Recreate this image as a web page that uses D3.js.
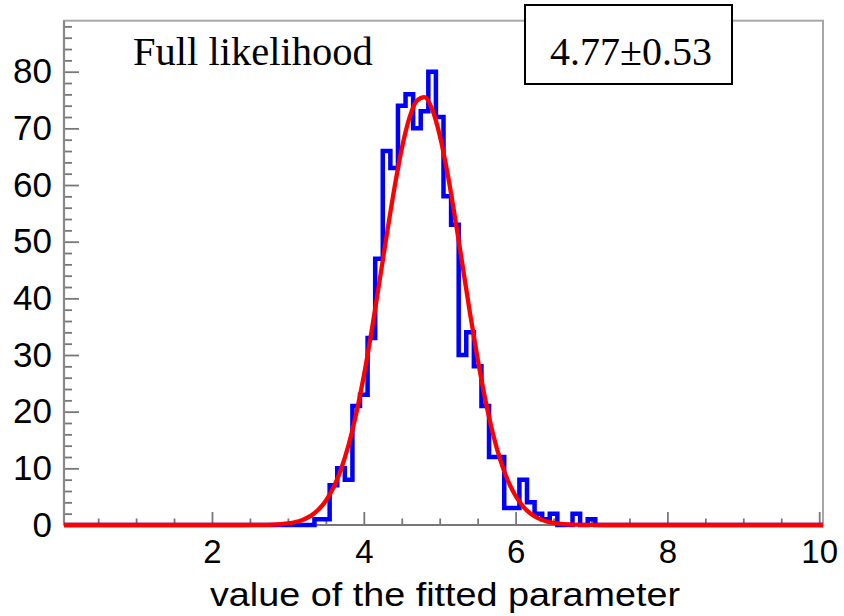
<!DOCTYPE html>
<html lang="en">
  <head>
    <meta charset="utf-8">
    <title>Full likelihood fit</title>
    <style>
        body {
            margin: 0;
            background: #fff;
        }
        svg {
            display: block;
        }
    </style>
    <script src="https://d3js.org/d3.v7.min.js"></script>
  </head>
  <body>
    <script>

    // histogram: bin centres and counts (bin width 0.1)
    const binWidth = 0.1;
    const binCenters = [3.4, 3.5, 3.6, 3.7, 3.8, 3.9, 4.0, 4.1, 4.2, 4.3,
                        4.4, 4.5, 4.6, 4.7, 4.8, 4.9, 5.0, 5.1, 5.2, 5.3,
                        5.4, 5.5, 5.6, 5.7, 5.8, 5.9, 6.0, 6.1, 6.2, 6.3,
                        6.4, 6.5, 6.6, 6.7, 6.8, 6.9, 7.0];
    const counts = [1, 1, 7, 10, 8, 21, 23, 33, 47, 66,
                    63, 74, 76, 70, 73, 80, 72, 58, 53, 30,
                    34, 28, 21, 12, 12, 3, 3, 8, 4, 2,
                    1, 2, 0, 0, 2, 0, 1];

    // red fit curve
    const fitX = [0.05, 2.4, 2.6, 2.8, 3.0, 3.1, 3.2, 3.3, 3.4, 3.5, 3.6, 3.7, 3.8, 3.9,
                  4.0, 4.1, 4.2, 4.3, 4.4, 4.5, 4.6, 4.7, 4.8, 4.9,
                  5.0, 5.1, 5.2, 5.3, 5.4, 5.5, 5.6, 5.7, 5.8, 5.9,
                  6.0, 6.1, 6.2, 6.3, 6.4, 6.5, 6.6, 6.8, 7.0, 7.2, 10.05];
    const fitY = [0, 0, 0.02, 0.08, 0.29, 0.53, 0.94, 1.61, 2.68, 4.28, 6.61, 9.85, 14.16, 19.64,
                  26.3, 34.0, 42.4, 51.0, 59.2, 66.4, 71.8, 74.9, 75.5, 73.4,
                  68.8, 62.3, 54.4, 45.9, 37.3, 29.3, 22.2, 16.2, 11.4, 7.79,
                  5.12, 3.25, 1.98, 1.17, 0.67, 0.37, 0.19, 0.05, 0.01, 0, 0];

    const xTicks = [2, 4, 6, 8, 10];
    const xMinor = d3.range(1, 21).map(d => d * 0.5).filter(d => d % 2 !== 0);
    const yTicks = [0, 10, 20, 30, 40, 50, 60, 70, 80];
    const yMinor = d3.range(1, 45).map(d => d * 2).filter(d => d % 10 !== 0);

    const xTitle = "value of the fitted parameter";
    const label = "Full likelihood";
    const fitResult = "4.77\u00b10.53";

    const W = 844, H = 616;
    const frame = { left: 64, right: 823, top: 20.7, bottom: 525 };

    const svg = d3.select("body")
        .append("svg")
        .attr("width", W)
        .attr("height", H)
        .style("background-color", "#fff");

    const x = d3.scaleLinear()
        .domain([0.05, 10.05])
        .range([frame.left, frame.right]);

    const y = d3.scaleLinear()
        .domain([0, 89])
        .range([frame.bottom, frame.top]);

    // frame
    svg.append("rect")
        .attr("x", frame.left)
        .attr("y", frame.top)
        .attr("width", frame.right - frame.left)
        .attr("height", frame.bottom - frame.top)
        .attr("fill", "none")
        .attr("stroke", "#a8a8a8")
        .attr("stroke-width", 2);

    const tickStyle = g => g
        .call(g => g.select(".domain").remove())
        .call(g => g.selectAll(".tick line").attr("stroke", "#777").attr("stroke-width", 1.8));

    // y axis
    svg.append("g")
        .attr("transform", `translate(${frame.left},0)`)
        .call(d3.axisLeft(y).tickValues(yMinor).tickSize(-8).tickFormat(""))
        .call(tickStyle);

    svg.append("g")
        .attr("transform", `translate(${frame.left},0)`)
        .call(d3.axisLeft(y).tickValues(yTicks).tickSize(-15).tickPadding(12))
        .call(tickStyle)
        .call(g => g.selectAll("text")
            .attr("fill", "#000")
            .style("font-family", "'Liberation Sans', Arial, sans-serif")
            .style("font-size", "35px"));

    // x axis
    svg.append("g")
        .attr("transform", `translate(0,${frame.bottom})`)
        .call(d3.axisBottom(x).tickValues(xMinor).tickSize(-6.5).tickFormat(""))
        .call(tickStyle);

    svg.append("g")
        .attr("transform", `translate(0,${frame.bottom})`)
        .call(d3.axisBottom(x).tickValues(xTicks).tickSize(-13).tickPadding(15))
        .call(tickStyle)
        .call(g => g.selectAll("text")
            .attr("fill", "#000")
            .style("font-family", "'Liberation Sans', Arial, sans-serif")
            .style("font-size", "33px"));

    // axis lines
    svg.append("line")
        .attr("x1", frame.left).attr("x2", frame.left)
        .attr("y1", frame.top).attr("y2", frame.bottom)
        .attr("stroke", "#888").attr("stroke-width", 2.2);

    svg.append("line")
        .attr("x1", frame.left).attr("x2", frame.right)
        .attr("y1", frame.bottom).attr("y2", frame.bottom)
        .attr("stroke", "#777").attr("stroke-width", 2.2);

    svg.append("text")
        .attr("x", 210)
        .attr("y", 606)
        .attr("textLength", 470)
        .attr("lengthAdjust", "spacingAndGlyphs")
        .style("font-family", "'Liberation Sans', Arial, sans-serif")
        .style("font-size", "34px")
        .text(xTitle);

    // histogram outline
    const steps = [[x.domain()[0], 0]]
        .concat(binCenters.map((c, i) => [c - binWidth / 2, counts[i]]))
        .concat([[binCenters[binCenters.length - 1] + binWidth / 2, 0], [x.domain()[1], 0]]);

    const stepLine = d3.line()
        .x(d => x(d[0]))
        .y(d => y(d[1]))
        .curve(d3.curveStepAfter);

    svg.append("path")
        .datum(steps)
        .attr("fill", "none")
        .attr("stroke", "#0000ff")
        .attr("stroke-width", 4.5)
        .attr("stroke-linejoin", "miter")
        .attr("d", stepLine);

    // fit curve
    const fitLine = d3.line()
        .x(d => x(d[0]))
        .y(d => y(d[1]))
        .curve(d3.curveMonotoneX);

    svg.append("path")
        .datum(fitX.map((v, i) => [v, fitY[i]]))
        .attr("fill", "none")
        .attr("stroke", "#ff0000")
        .attr("stroke-width", 4.3)
        .attr("stroke-linejoin", "round")
        .attr("d", fitLine);

    // labels
    svg.append("text")
        .attr("x", 133)
        .attr("y", 65)
        .style("font-family", "'Liberation Serif', 'Times New Roman', serif")
        .style("font-size", "40.5px")
        .text(label);

    svg.append("rect")
        .attr("x", 525)
        .attr("y", 5)
        .attr("width", 207)
        .attr("height", 79)
        .attr("fill", "#fff")
        .attr("stroke", "#000")
        .attr("stroke-width", 2);

    svg.append("text")
        .attr("x", 631)
        .attr("y", 65)
        .attr("text-anchor", "middle")
        .style("font-family", "'Liberation Serif', 'Times New Roman', serif")
        .style("font-size", "40px")
        .text(fitResult);

    </script>
  </body>
</html>
